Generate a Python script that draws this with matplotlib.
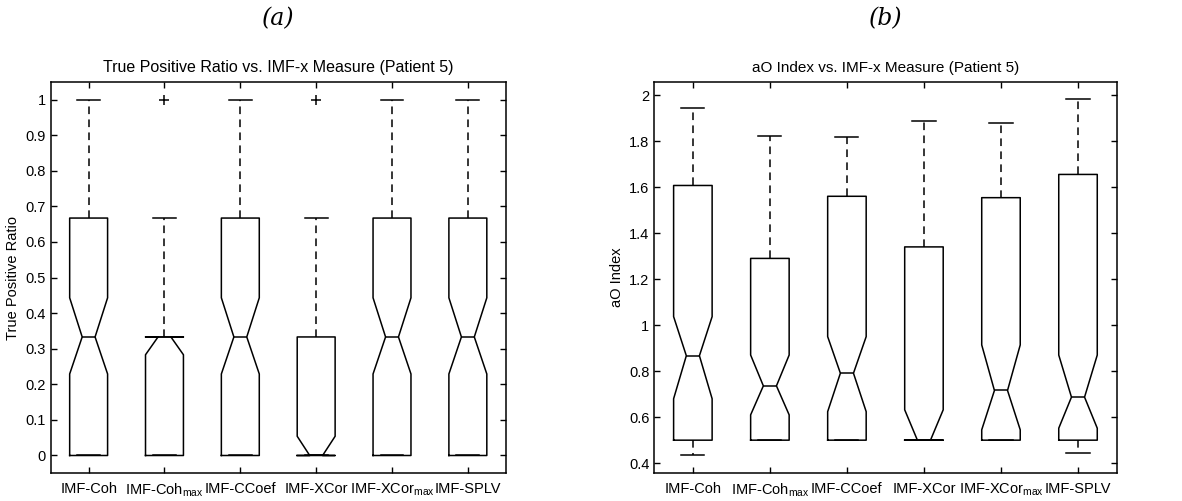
import matplotlib
matplotlib.use("Agg")
import matplotlib.pyplot as plt
import numpy as np

plt.rcParams['font.family'] = ['Liberation Sans', 'DejaVu Sans']
plt.rcParams['mathtext.fontset'] = 'custom'
plt.rcParams['mathtext.rm'] = 'Liberation Sans'

labels = ['IMF-Coh', 'IMF-Coh$_{\\mathrm{max}}$', 'IMF-CCoef', 'IMF-XCor',
          'IMF-XCor$_{\\mathrm{max}}$', 'IMF-SPLV']

# (a) true positive ratio per measure
tpr_q1 = [0, 0, 0, 0, 0, 0]
tpr_med = [0.333, 0.333, 0.333, 0, 0.333, 0.333]
tpr_q3 = [0.667, 0.333, 0.667, 0.333, 0.667, 0.667]
tpr_cilo = [0.229, 0.283, 0.229, 0, 0.229, 0.229]
tpr_cihi = [0.443, 0.333, 0.443, 0.054, 0.443, 0.443]
tpr_whislo = [0, 0, 0, 0, 0, 0]
tpr_whishi = [1, 0.667, 1, 0.667, 1, 1]
tpr_fliers = [[], [1], [], [1], [], []]

# (b) aO index per measure
ao_q1 = [0.5, 0.5, 0.5, 0.5, 0.5, 0.5]
ao_med = [0.867, 0.736, 0.791, 0.5, 0.716, 0.687]
ao_q3 = [1.607, 1.29, 1.56, 1.34, 1.554, 1.655]
ao_cilo = [0.68, 0.61, 0.624, 0.5, 0.545, 0.552]
ao_cihi = [1.037, 0.87, 0.95, 0.632, 0.914, 0.87]
ao_whislo = [0.436, 0.5, 0.5, 0.5, 0.5, 0.446]
ao_whishi = [1.942, 1.822, 1.818, 1.886, 1.877, 1.981]
ao_fliers = [[], [], [], [], [], []]


def make_stats(q1, med, q3, cilo, cihi, wlo, whi, fl):
    return [dict(q1=a, med=b, q3=c, cilo=d, cihi=e, whislo=f, whishi=g,
                 fliers=np.array(h, dtype=float))
            for a, b, c, d, e, f, g, h in zip(q1, med, q3, cilo, cihi, wlo, whi, fl)]


def draw(ax, stats, ylim, yticks, yticklabels, title, ylabel, title_size):
    pos = np.arange(1, len(stats) + 1)
    res = ax.bxp(stats, positions=pos, widths=0.5, shownotches=True,
                 boxprops=dict(color='black', lw=1.1),
                 medianprops=dict(color='black', lw=1.1),
                 whiskerprops=dict(color='black', lw=1.1, ls=(0, (5, 3.5))),
                 capprops=dict(color='black', lw=1.1),
                 flierprops=dict(marker='+', markeredgecolor='black',
                                 markersize=7, mew=1.1, ls='none'),
                 capwidths=0.3)
    # narrower notch waist
    for p, box, medl in zip(pos, res['boxes'], res['medians']):
        xs = np.array(box.get_xdata(), dtype=float)
        inner = np.isclose(np.abs(xs - p), 0.125)
        xs[inner] = p + np.sign(xs[inner] - p) * 0.085
        box.set_xdata(xs)
        mx = np.array(medl.get_xdata(), dtype=float)
        medl.set_xdata(p + np.sign(mx - p) * 0.085)
    ax.set_xlim(0.5, 6.5)
    ax.set_ylim(*ylim)
    ax.set_yticks(yticks)
    ax.set_yticklabels(yticklabels)
    ax.set_xticks(pos)
    ax.set_xticklabels(labels, fontsize=10.5)
    ax.tick_params(direction='in', top=True, right=True, length=4,
                   labelsize=10.5, width=1)
    ax.tick_params(axis='x', pad=6)
    for s in ax.spines.values():
        s.set_linewidth(1.1)
    ax.set_title(title, fontsize=title_size, pad=7)
    ax.set_ylabel(ylabel, fontsize=10.5)


fig = plt.figure(figsize=(11.82, 5.01), dpi=100)
ax1 = fig.add_axes([0.0429, 0.0553, 0.385, 0.7816])
ax2 = fig.add_axes([0.5536, 0.0553, 0.391, 0.7816])

draw(ax1, make_stats(tpr_q1, tpr_med, tpr_q3, tpr_cilo, tpr_cihi,
                     tpr_whislo, tpr_whishi, tpr_fliers),
     (-0.05, 1.05), np.round(np.arange(0, 1.01, 0.1), 1),
     ['0', '0.1', '0.2', '0.3', '0.4', '0.5', '0.6', '0.7', '0.8', '0.9', '1'],
     'True Positive Ratio vs. IMF-x Measure (Patient 5)', 'True Positive Ratio', 11.5)
draw(ax2, make_stats(ao_q1, ao_med, ao_q3, ao_cilo, ao_cihi,
                     ao_whislo, ao_whishi, ao_fliers),
     (0.356, 2.058), np.round(np.arange(0.4, 2.01, 0.2), 1),
     ['0.4', '0.6', '0.8', '1', '1.2', '1.4', '1.6', '1.8', '2'],
     'aO Index vs. IMF-x Measure (Patient 5)', 'aO Index', 11)

fig.text(0.0429 + 0.385 / 2, 0.962, '(a)', ha='center', va='center',
         fontsize=17, style='italic', family='DejaVu Serif')
fig.text(0.5536 + 0.391 / 2, 0.962, '(b)', ha='center', va='center',
         fontsize=17, style='italic', family='DejaVu Serif')

fig.savefig('out.png', dpi=100)
